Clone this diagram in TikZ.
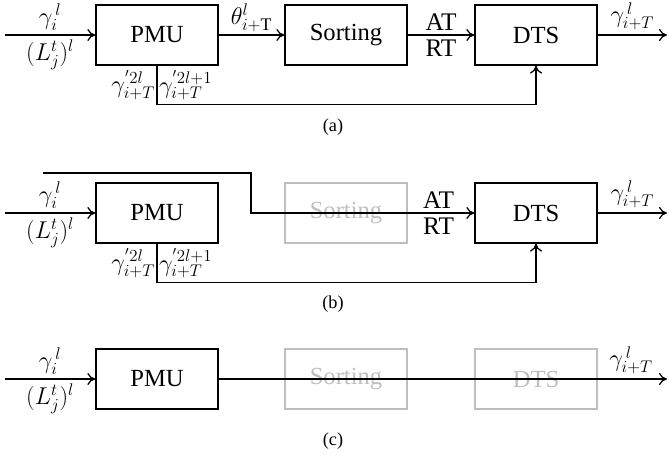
\documentclass[tikz,border=0pt]{standalone}
\usepackage{fontspec}
\setmainfont{Liberation Serif}
\usetikzlibrary{arrows.meta}
\begin{document}
\begin{tikzpicture}[x=0.025cm,y=-0.025cm,
blk/.style={%
draw,
line width=0.9pt,
minimum width=3.05cm,
minimum height=1.5cm,
inner sep=0pt,
font={\fontsize{17.5pt}{20}\selectfont},
},
ghost/.style={%
blk,
draw=black!25,
text=black!25,
},
lab/.style={%
inner sep=3pt,
font={\fontsize{18pt}{20}\selectfont},
},
sig/.style={%
line width=0.9pt,
-{To[length=2mm,width=3mm]},
every node/.style={lab},
},
caption/.style={%
font={\fontsize{13pt}{15}\selectfont},
}
]
\useasboundingbox (0,0) rectangle (669,458);

%(a)
\node[blk](pmuA)at(157,35){PMU};
\node[blk](sortA)at(346,35){Sorting};
\node[blk](dtsA)at(536,35){DTS};
\coordinate(inA)at(5,35);
\coordinate(outA)at(667,35);
\draw[sig](inA)--node[above]{$\gamma_i^{\,l}$}node[below]{$(L_j^t)^l$}(pmuA);
\draw[sig](pmuA)--node[above,inner sep=2pt]{$\theta^l_{i+\mathrm{T}}$}(sortA);
\draw[sig](sortA)--node[above]{AT}node[below]{RT}(dtsA);
\draw[sig](dtsA)--node[above]{$\gamma^{\,l}_{i+T}$}(outA);
\draw[sig](pmuA.south)--node[left,inner sep=1pt]{$\gamma^{'2l}_{i+T}$}node[right,inner sep=1pt]{$\gamma^{'2l+1}_{i+T}$}++(0,39)-|(dtsA.south);
\node[caption](capA)at(333,127){(a)};

%(b)
\node[ghost](sortB)at(346,213){Sorting};
\node[blk](pmuB)at(157,213){PMU};
\node[blk](dtsB)at(536,213){DTS};
\coordinate(inB)at(5,213);
\coordinate(outB)at(667,213);
\coordinate(topB)at(43,173);
\coordinate(bendB)at(251,213);
\draw[sig](inB)--node[above]{$\gamma_i^{\,l}$}node[below]{$(L_j^t)^l$}(pmuB);
\draw[sig](topB)-|(bendB)--node[pos=0.84,above]{AT}node[pos=0.84,below]{RT}(dtsB);
\draw[sig](dtsB)--node[above]{$\gamma^{\,l}_{i+T}$}(outB);
\draw[sig](pmuB.south)--node[left,inner sep=1pt]{$\gamma^{'2l}_{i+T}$}node[right,inner sep=1pt]{$\gamma^{'2l+1}_{i+T}$}++(0,39)-|(dtsB.south);
\node[caption](capB)at(333,304){(b)};

%(c)
\node[ghost](sortC)at(346,379){Sorting};
\node[ghost](dtsC)at(536,379){DTS};
\node[blk](pmuC)at(157,379){PMU};
\coordinate(inC)at(5,379);
\coordinate(outC)at(667,379);
\draw[sig](inC)--node[above]{$\gamma_i^{\,l}$}node[below]{$(L_j^t)^l$}(pmuC);
\draw[sig](pmuC)--node[pos=0.92,above]{$\gamma^{\,l}_{i+T}$}(outC);
\node[caption](capC)at(333,441){(c)};
\end{tikzpicture}
\end{document}
